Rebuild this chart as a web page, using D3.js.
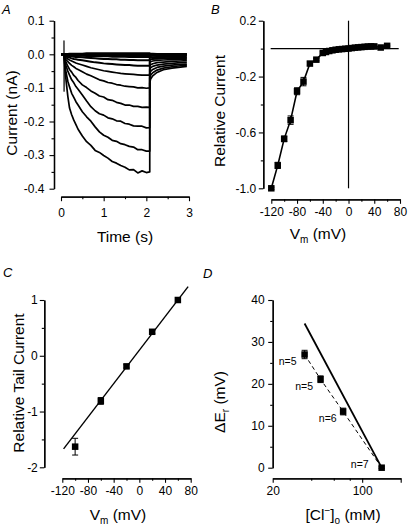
<!DOCTYPE html>
<html><head><meta charset="utf-8">
<script src="https://cdn.jsdelivr.net/npm/d3@7/dist/d3.min.js"></script>
<style>
body{margin:0;background:#fff}
svg text{font-family:"Liberation Sans",Arial,sans-serif;fill:#000}
</style></head><body>
<svg id="chart" width="409" height="529"></svg>
<script>
// ================= DATA =================
// Panel A : current traces (nA) vs time (s)
const holdTime = [0, 0.07];
const holdValues = [0, 0];
const stepTime = [0.07,0.09,0.12,0.16,0.2,0.25,0.3,0.35,0.4,0.5,0.6,0.7,0.8,0.9,1.0,1.1,1.2,1.3,1.4,1.5,1.6,1.7,1.8,1.9,2.0,2.08];
const step1  = [0,-0.04,-0.08,-0.125,-0.16,-0.18,-0.196,-0.209,-0.223,-0.243,-0.26,-0.271,-0.286,-0.292,-0.301,-0.309,-0.319,-0.324,-0.331,-0.336,-0.344,-0.343,-0.353,-0.347,-0.352,-0.35];
const step2  = [0,-0.03,-0.055,-0.08,-0.097,-0.116,-0.128,-0.141,-0.151,-0.171,-0.186,-0.199,-0.216,-0.231,-0.241,-0.247,-0.256,-0.259,-0.266,-0.269,-0.274,-0.276,-0.284,-0.284,-0.288,-0.288];
const step3  = [0,-0.02,-0.035,-0.05,-0.062,-0.076,-0.085,-0.096,-0.104,-0.121,-0.139,-0.156,-0.168,-0.177,-0.181,-0.189,-0.192,-0.198,-0.199,-0.206,-0.208,-0.213,-0.214,-0.214,-0.219,-0.218];
const step4  = [0,-0.015,-0.025,-0.035,-0.045,-0.053,-0.063,-0.069,-0.078,-0.091,-0.099,-0.109,-0.116,-0.124,-0.127,-0.135,-0.137,-0.143,-0.146,-0.151,-0.151,-0.155,-0.155,-0.158,-0.157,-0.158];
const step5  = [0,-0.01,-0.016,-0.022,-0.027,-0.033,-0.037,-0.042,-0.045,-0.052,-0.059,-0.064,-0.07,-0.076,-0.079,-0.084,-0.086,-0.09,-0.092,-0.095,-0.096,-0.097,-0.1,-0.099,-0.101,-0.1];
const step6  = [0,-0.006,-0.01,-0.014,-0.017,-0.02,-0.023,-0.026,-0.028,-0.032,-0.036,-0.04,-0.043,-0.046,-0.049,-0.051,-0.053,-0.055,-0.057,-0.058,-0.059,-0.06,-0.061,-0.062,-0.062,-0.062];
const step7  = [0,-0.004,-0.006,-0.008,-0.01,-0.012,-0.014,-0.015,-0.016,-0.018,-0.02,-0.022,-0.024,-0.025,-0.027,-0.028,-0.029,-0.03,-0.031,-0.032,-0.032,-0.033,-0.034,-0.034,-0.034,-0.034];
const step8  = [0,-0.002,-0.003,-0.004,-0.005,-0.006,-0.007,-0.008,-0.008,-0.009,-0.01,-0.011,-0.012,-0.013,-0.014,-0.014,-0.015,-0.015,-0.016,-0.016,-0.017,-0.017,-0.018,-0.018,-0.018,-0.018];
const step9  = [0,-0.001,-0.001,-0.002,-0.002,-0.003,-0.003,-0.003,-0.004,-0.004,-0.005,-0.005,-0.005,-0.006,-0.006,-0.006,-0.007,-0.007,-0.007,-0.007,-0.008,-0.008,-0.008,-0.008,-0.008,-0.008];
const step10 = [0,0,-0.001,-0.001,-0.001,-0.001,-0.002,-0.002,-0.002,-0.002,-0.002,-0.002,-0.003,-0.003,-0.003,-0.003,-0.003,-0.003,-0.003,-0.003,-0.003,-0.003,-0.003,-0.003,-0.003,-0.003];
const step11 = [0,0,0,0,0,0,0,0,0,0,0,0,0,0,0,0,0,0,0,0,0,0,0,0,0,0];
const step12 = [0,0.001,0.001,0.001,0.002,0.002,0.002,0.002,0.002,0.002,0.003,0.003,0.003,0.003,0.003,0.003,0.003,0.003,0.003,0.003,0.003,0.003,0.003,0.003,0.003,0.003];
const tailTime = [2.08,2.1,2.15,2.25,2.4,2.6,2.8,2.95];
const tail1  = [-0.085,-0.074,-0.064,-0.054,-0.046,-0.041,-0.038,-0.036];
const tail2  = [-0.07,-0.062,-0.055,-0.047,-0.041,-0.037,-0.034,-0.033];
const tail3  = [-0.057,-0.051,-0.045,-0.039,-0.035,-0.032,-0.03,-0.029];
const tail4  = [-0.045,-0.04,-0.036,-0.032,-0.029,-0.027,-0.025,-0.024];
const tail5  = [-0.034,-0.031,-0.028,-0.025,-0.023,-0.021,-0.02,-0.019];
const tail6  = [-0.024,-0.022,-0.02,-0.018,-0.017,-0.016,-0.015,-0.015];
const tail7  = [-0.016,-0.015,-0.014,-0.013,-0.012,-0.011,-0.011,-0.011];
const tail8  = [-0.01,-0.009,-0.009,-0.008,-0.008,-0.007,-0.007,-0.007];
const tail9  = [-0.005,-0.005,-0.004,-0.004,-0.004,-0.003,-0.003,-0.003];
const tail10 = [-0.002,-0.002,-0.002,-0.002,-0.001,-0.001,-0.001,-0.001];
const tail11 = [0,0,0,0,0,0,0,0];
const tail12 = [0.002,0.002,0.002,0.001,0.001,0.001,0.001,0.001];
const transientTime = [0.07,0.07,0.072,0.075,0.08];
const transientValues = [0,0.04,-0.11,-0.05,-0.02];
const stepSeries = [step1,step2,step3,step4,step5,step6,step7,step8,step9,step10,step11,step12];
const tailSeries = [tail1,tail2,tail3,tail4,tail5,tail6,tail7,tail8,tail9,tail10,tail11,tail12];
const aYTicks = [0.1,0.0,-0.1,-0.2,-0.3,-0.4];
const aYMinor = [0.05,-0.05,-0.15,-0.25,-0.35];
const aXTicks = [0,1,2,3];
const aXMinor = [0.5,1.5,2.5];

// Panel B : relative current vs Vm
const bVm = [-120,-110,-100,-90,-80,-70,-60,-50,-40,-35,-30,-25,-20,-15,-10,-5,0,5,10,15,20,25,30,35,40,50,60];
const bRel = [-1.0,-0.836,-0.646,-0.512,-0.305,-0.236,-0.107,-0.079,-0.031,-0.024,-0.017,-0.012,-0.008,-0.005,-0.003,-0.001,0.001,0.004,0.007,0.009,0.011,0.013,0.015,0.016,0.016,0.008,0.02];
const bErr = [0.008,0.022,0.02,0.03,0.025,0.03,0.012,0.008,0.008,0.006,0.005,0.005,0.005,0.004,0.004,0.004,0.004,0.004,0.004,0.004,0.004,0.004,0.004,0.004,0.004,0.004,0.004];
const bYTicks = [0.2,-0.2,-0.6,-1.0];
const bYMinor = [0.0,-0.4,-0.8];
const bXTicks = [-120,-80,-40,0,40,80];
const bXMinor = [-100,-60,-20,20,60];

// Panel C : relative tail current vs Vm
const cVm = [-100,-60,-20,20,60];
const cRel = [-1.63,-0.81,-0.19,0.43,1.0];
const cErr = [0.15,0.06,0.03,0.03,0.0];
const cFitVm = [-118,76];
const cFitRel = [-1.67,1.24];
const cYTicks = [1,0,-1,-2];
const cYMinor = [0.5,-0.5,-1.5];
const cXTicks = [-120,-80,-40,0,40,80];
const cXMinor = [-100,-60,-20,20,60];

// Panel D : delta Er vs [Cl-]o
const dCl = [35.5,47.3,71,142];
const dEr = [27,21.1,13.4,0];
const dErr = [1.0,0.8,0.8,0.2];
const dN = ["n=5","n=5","n=6","n=7"];
const dNernstCl = [35.5,142];
const dNernstEr = [34.4,0];
const dYTicks = [0,10,20,30,40];
const dYMinor = [5,15,25,35];
const dXTicks = [20,100,200];
const dXLabels = ["20","100",""];
const dXMinor = [40,60,80];

// ================= DRAWING =================
const svg = d3.select("#chart");
const FS = 12;

function styleAxis(g){
  g.select(".domain").attr("stroke","#000").attr("stroke-width",1.3);
  g.selectAll(".tick line").attr("stroke","#000").attr("stroke-width",1.1);
  g.selectAll(".tick text").style("font-size",FS+"px").attr("fill","#000");
}
function yAxis(x, scale, majors, minors, fmt, pad){
  const g1 = svg.append("g").attr("transform",`translate(${x},0)`)
    .call(d3.axisLeft(scale).tickValues(minors).tickSize(2.5).tickSizeOuter(0).tickFormat(""));
  styleAxis(g1);
  const g2 = svg.append("g").attr("transform",`translate(${x},0)`)
    .call(d3.axisLeft(scale).tickValues(majors).tickSize(4.5).tickSizeOuter(0).tickPadding(pad).tickFormat(fmt));
  styleAxis(g2);
}
function xAxis(y, scale, majors, minors, fmt, pad){
  const g1 = svg.append("g").attr("transform",`translate(0,${y})`)
    .call(d3.axisBottom(scale).tickValues(minors).tickSize(2.5).tickSizeOuter(0).tickFormat(""));
  styleAxis(g1);
  const g2 = svg.append("g").attr("transform",`translate(0,${y})`)
    .call(d3.axisBottom(scale).tickValues(majors).tickSize(4.5).tickSizeOuter(0).tickPadding(pad).tickFormat(fmt));
  styleAxis(g2);
}
function panelLetter(t,x,y){
  svg.append("text").attr("x",x).attr("y",y).style("font-size","13px").style("font-style","italic").text(t);
}
function squares(data, xs, ys, size){
  svg.append("g").selectAll("rect").data(data).join("rect")
    .attr("x",d=>xs(d.x)-size/2).attr("y",d=>ys(d.y)-size/2)
    .attr("width",size).attr("height",size).attr("fill","#000");
}
function errorBars(data, xs, ys, cap){
  const g = svg.append("g").attr("stroke","#000").attr("stroke-width",1);
  data.filter(d=>d.e>0).forEach(d=>{
    const x = xs(d.x);
    g.append("line").attr("x1",x).attr("x2",x).attr("y1",ys(d.y+d.e)).attr("y2",ys(d.y-d.e));
    g.append("line").attr("x1",x-cap).attr("x2",x+cap).attr("y1",ys(d.y+d.e)).attr("y2",ys(d.y+d.e));
    g.append("line").attr("x1",x-cap).attr("x2",x+cap).attr("y1",ys(d.y-d.e)).attr("y2",ys(d.y-d.e));
  });
}
const fmt1 = d => d.toFixed(1);
const fmt0 = d => String(d);

// ---------- Panel A ----------
const xA = d3.scaleLinear().domain([0,3]).range([61,189]);
const yA = d3.scaleLinear().domain([-0.4,0.1]).range([188.7,20.7]);
const lineA = d3.line().x(d=>xA(d[0])).y(d=>yA(d[1]));
const gA = svg.append("g").attr("fill","none").attr("stroke","#000").attr("stroke-linejoin","round");
stepSeries.forEach((s,i)=>{
  const pts = holdTime.map((t,j)=>[t,holdValues[j]])
    .concat(stepTime.map((t,j)=>[t,s[j]]))
    .concat(tailTime.map((t,j)=>[t,tailSeries[i][j]]));
  gA.append("path").attr("d",lineA(pts)).attr("stroke-width", i>=6 ? 2 : 1.7);
});
gA.append("path").attr("d",lineA(transientTime.map((t,j)=>[t,transientValues[j]]))).attr("stroke-width",1.2);
yAxis(54, yA, aYTicks, aYMinor, fmt1, 5);
xAxis(196.7, xA, aXTicks, aXMinor, fmt0, 7);
panelLetter("A",2,14);
svg.append("text").attr("transform","translate(16.5,113) rotate(-90)").attr("text-anchor","middle")
  .style("font-size","15.5px").text("Current (nA)");
svg.append("text").attr("x",125).attr("y",242).attr("text-anchor","middle")
  .style("font-size","15.5px").text("Time (s)");

// ---------- Panel B ----------
const xB = d3.scaleLinear().domain([-120,80]).range([271.3,400]);
const yB = d3.scaleLinear().domain([-1.0,0.2]).range([188.3,20.7]);
const gB = svg.append("g").attr("stroke","#000").attr("fill","none");
gB.append("line").attr("x1",xB(-121)).attr("x2",xB(78)).attr("y1",yB(0)).attr("y2",yB(0)).attr("stroke-width",1.2);
gB.append("line").attr("x1",xB(0)).attr("x2",xB(0)).attr("y1",yB(0.2)).attr("y2",yB(-1.0)).attr("stroke-width",1.2);
const dataB = bVm.map((v,i)=>({x:v,y:bRel[i],e:bErr[i]}));
gB.append("path").attr("d",d3.line().x(d=>xB(d.x)).y(d=>yB(d.y))(dataB)).attr("stroke-width",1.6);
errorBars(dataB, xB, yB, 3);
squares(dataB, xB, yB, 6.5);
yAxis(263.3, yB, bYTicks, bYMinor, fmt1, 2.5);
xAxis(199.3, xB, bXTicks, bXMinor, fmt0, 4);
panelLetter("B",211,14);
svg.append("text").attr("transform","translate(225,111) rotate(-90)").attr("text-anchor","middle")
  .style("font-size","15.5px").text("Relative Current");
const tB = svg.append("text").attr("x",318).attr("y",238.5).attr("text-anchor","middle").style("font-size","15.5px");
tB.append("tspan").text("V");
tB.append("tspan").attr("dy",4).style("font-size","10px").text("m");
tB.append("tspan").attr("dy",-4).text(" (mV)");

// ---------- Panel C ----------
const xC = d3.scaleLinear().domain([-120,80]).range([62.3,190.7]);
const yC = d3.scaleLinear().domain([-2,1]).range([467.3,300]);
const dataC = cVm.map((v,i)=>({x:v,y:cRel[i],e:cErr[i]}));
svg.append("path").attr("fill","none").attr("stroke","#000").attr("stroke-width",1.4)
  .attr("d",d3.line().x(d=>xC(d[0])).y(d=>yC(d[1]))(cFitVm.map((v,i)=>[v,cFitRel[i]])));
errorBars(dataC, xC, yC, 3);
squares(dataC, xC, yC, 6.5);
yAxis(44.3, yC, cYTicks, cYMinor, fmt0, 2);
xAxis(478.3, xC, cXTicks, cXMinor, fmt0, 4);
panelLetter("C",3,277);
svg.append("text").attr("transform","translate(24,383) rotate(-90)").attr("text-anchor","middle")
  .style("font-size","15.5px").text("Relative Tail Current");
const tC = svg.append("text").attr("x",118).attr("y",520).attr("text-anchor","middle").style("font-size","15.5px");
tC.append("tspan").text("V");
tC.append("tspan").attr("dy",4).style("font-size","10px").text("m");
tC.append("tspan").attr("dy",-4).text(" (mV)");

// ---------- Panel D ----------
const xD = d3.scaleLog().domain([20,200]).range([272.7,400.7]);
const yD = d3.scaleLinear().domain([0,40]).range([467.7,300]);
const dataD = dCl.map((c,i)=>({x:c,y:dEr[i],e:dErr[i],n:dN[i]}));
svg.append("path").attr("fill","none").attr("stroke","#000").attr("stroke-width",1.8)
  .attr("d",d3.line().x(d=>xD(d[0])).y(d=>yD(d[1]))(dNernstCl.map((c,i)=>[c,dNernstEr[i]])));
svg.append("path").attr("fill","none").attr("stroke","#000").attr("stroke-width",1).attr("stroke-dasharray","4,3")
  .attr("d",d3.line().x(d=>xD(d.x)).y(d=>yD(d.y))(dataD));
errorBars(dataD, xD, yD, 3);
squares(dataD, xD, yD, 6.5);
const nOff = [[-8,10],[-7.5,11],[-6.5,10.5],[-13,0]];
svg.append("g").selectAll("text").data(dataD).join("text")
  .attr("x",(d,i)=>xD(d.x)+nOff[i][0]).attr("y",(d,i)=>yD(d.y)+nOff[i][1])
  .attr("text-anchor","end").style("font-size","10.5px").text(d=>d.n);
yAxis(272.7, yD, dYTicks, dYMinor, fmt0, 3.5);
xAxis(478.3, xD, dXTicks, dXMinor, (d,i)=>dXLabels[i], 3.5);
panelLetter("D",203,278);
const tDy = svg.append("text").attr("transform","translate(225,402) rotate(-90)").attr("text-anchor","middle").style("font-size","15.5px");
tDy.append("tspan").text("\u0394E");
tDy.append("tspan").attr("dy",4).style("font-size","10px").text("r");
tDy.append("tspan").attr("dy",-4).text(" (mV)");
const tDx = svg.append("text").attr("x",343).attr("y",520).attr("text-anchor","middle").style("font-size","15.5px");
tDx.append("tspan").text("[Cl");
tDx.append("tspan").attr("dy",-6).style("font-size","10px").text("\u2212");
tDx.append("tspan").attr("dy",6).text("]");
tDx.append("tspan").attr("dy",4).style("font-size","10px").text("o");
tDx.append("tspan").attr("dy",-4).text(" (mM)");
</script>
</body></html>
